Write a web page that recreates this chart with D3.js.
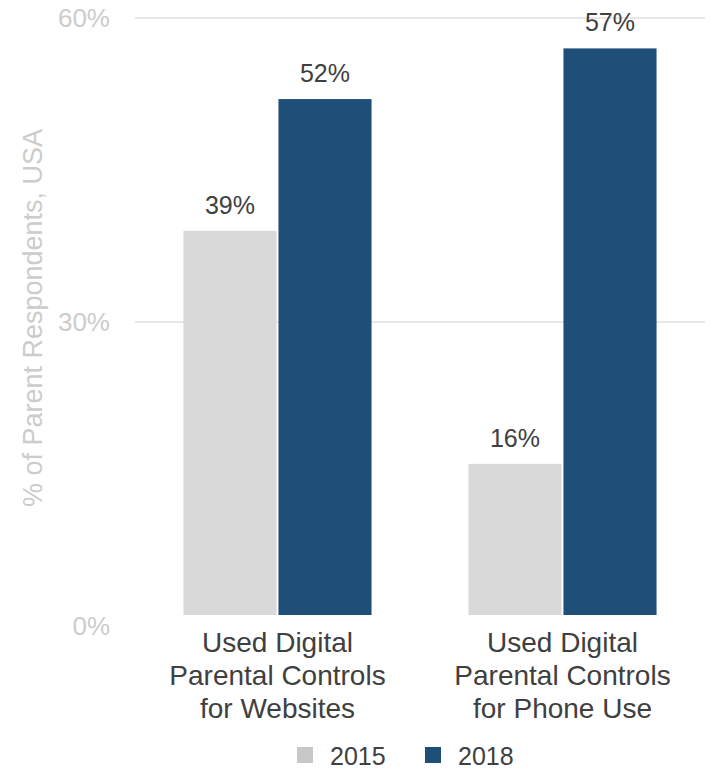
<!DOCTYPE html>
<html>
<head>
<meta charset="utf-8">
<script src="https://cdn.jsdelivr.net/npm/d3@7"></script>
<style>
  html, body { margin: 0; padding: 0; background: #fff; }
  svg { display: block; font-family: "Liberation Sans", Arial, sans-serif; }
</style>
</head>
<body>
<svg id="chart" width="710" height="770"></svg>
<script>
const categories = [
  ["Used Digital", "Parental Controls", "for Websites"],
  ["Used Digital", "Parental Controls", "for Phone Use"]
];
const seriesNames = ["2015", "2018"];
const values2015 = [39, 16];
const values2018 = [52, 57];
const yTicks = [0, 30, 60];
const colors = ["#d9d9d9", "#1f4e78"];
const legendColors = ["#c8c8c8", "#1f4e78"];

const svg = d3.select("#chart");
const margin = { left: 135, right: 5, top: 18, bottom: 144 };
const W = 710, H = 770;
const plotBottom = H - margin.bottom; // y of 0%

const x0 = d3.scaleBand().domain(d3.range(categories.length))
  .range([margin.left, W - margin.right]).paddingInner(0.34).paddingOuter(0.17);
const x1 = d3.scaleBand().domain(seriesNames).range([0, x0.bandwidth()]).paddingInner(0.02);
const y = d3.scaleLinear().domain([0, 60]).range([plotBottom, margin.top]);

// gridlines (excluding 0)
svg.append("g").selectAll("line").data(yTicks.filter(t => t > 0)).join("line")
  .attr("x1", margin.left).attr("x2", W - margin.right)
  .attr("y1", d => y(d)).attr("y2", d => y(d))
  .attr("stroke", "#e0e0e0").attr("stroke-width", 1.5);

// y tick labels
svg.append("g").selectAll("text").data(yTicks).join("text")
  .attr("x", 110).attr("y", d => y(d)).attr("dy", "0.36em")
  .attr("text-anchor", "end").attr("fill", "#cccccc").attr("font-size", 26)
  .text(d => d + "%");

// y axis title
svg.append("text")
  .attr("transform", `translate(42,${(y(0) + y(60)) / 2 - 4}) rotate(-90)`)
  .attr("text-anchor", "middle").attr("fill", "#cccccc").attr("font-size", 27)
  .text("% of Parent Respondents, USA");

// clip bars a bit above baseline as in reference
svg.append("defs").append("clipPath").attr("id", "plotclip")
  .append("rect").attr("x", 0).attr("y", 0).attr("width", W).attr("height", plotBottom - 11);

const data = categories.map((c, i) => ({
  i, vals: [values2015[i], values2018[i]]
}));

const groups = svg.append("g").attr("clip-path", "url(#plotclip)")
  .selectAll("g").data(data).join("g")
  .attr("transform", d => `translate(${x0(d.i)},0)`);

groups.selectAll("rect").data(d => d.vals.map((v, k) => ({ v, k }))).join("rect")
  .attr("x", d => x1(seriesNames[d.k]))
  .attr("width", x1.bandwidth())
  .attr("y", d => y(d.v))
  .attr("height", d => y(0) - y(d.v))
  .attr("fill", d => colors[d.k]);

// value labels
const labG = svg.append("g").selectAll("g").data(data).join("g")
  .attr("transform", d => `translate(${x0(d.i)},0)`);
labG.selectAll("text").data(d => d.vals.map((v, k) => ({ v, k }))).join("text")
  .attr("x", d => x1(seriesNames[d.k]) + x1.bandwidth() / 2)
  .attr("y", d => y(d.v) - 17)
  .attr("text-anchor", "middle").attr("fill", "#404040").attr("font-size", 25)
  .text(d => d.v + "%");

// category labels
const catG = svg.append("g").selectAll("text").data(categories).join("text")
  .attr("text-anchor", "middle").attr("fill", "#404040").attr("font-size", 28)
  .attr("transform", (d, i) => `translate(${x0(i) + x0.bandwidth() / 2},0)`);
catG.selectAll("tspan").data(d => d).join("tspan")
  .attr("x", 0).attr("y", (d, j) => 652 + j * 33)
  .text(d => d);

// legend
const legend = svg.append("g");
const legItems = legend.selectAll("g").data(seriesNames).join("g")
  .attr("transform", (d, i) => `translate(${297 + i * 128},0)`);
legItems.append("rect").attr("x", 0).attr("y", 747).attr("width", 16).attr("height", 16)
  .attr("fill", (d, i) => legendColors[i]);
legItems.append("text").attr("x", 33).attr("y", 765)
  .attr("fill", "#404040").attr("font-size", 25).text(d => d);
</script>
</body>
</html>
